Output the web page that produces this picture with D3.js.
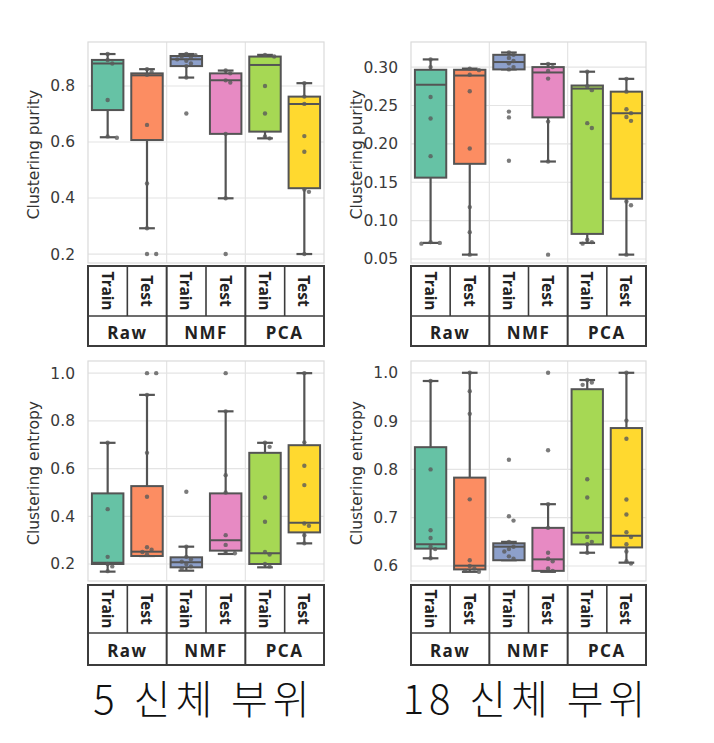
<!DOCTYPE html>
<html>
<head>
<meta charset="utf-8">
<script src="https://cdn.jsdelivr.net/npm/d3@7"></script>
<style>
  html, body { margin: 0; padding: 0; background: #fff; }
  svg { display: block; }
</style>
</head>
<body>
<svg id="chart" width="714" height="743"></svg>
<script>
// ---------- data ----------
const categories = ["Train", "Test", "Train", "Test", "Train", "Test"];
const groups = ["Raw", "NMF", "PCA"];
const boxColors = ["#66c2a5", "#fc8d62", "#8da0cb", "#e78ac3", "#a6d854", "#ffd92f"];
const panelTitles = ["5 신체 부위", "18 신체 부위"];
const yLabels = ["Clustering purity", "Clustering entropy"];

// box stats: [whiskerLow, q1, median, q3, whiskerHigh]
const purity5Stats = [
  [0.617, 0.714, 0.880, 0.893, 0.914],
  [0.292, 0.607, 0.838, 0.845, 0.860],
  [0.830, 0.871, 0.895, 0.907, 0.914],
  [0.399, 0.629, 0.820, 0.845, 0.855],
  [0.613, 0.637, 0.875, 0.905, 0.911],
  [0.200, 0.435, 0.736, 0.762, 0.810]
];
const purity5Points = [
  [0.914, 0.893, 0.880, 0.750, 0.620, 0.615],
  [0.860, 0.850, 0.840, 0.661, 0.452, 0.292, 0.200, 0.200],
  [0.914, 0.910, 0.905, 0.900, 0.895, 0.890, 0.880, 0.871, 0.830, 0.702],
  [0.855, 0.845, 0.820, 0.812, 0.629, 0.399, 0.200],
  [0.911, 0.905, 0.800, 0.702, 0.620, 0.613],
  [0.810, 0.762, 0.736, 0.621, 0.565, 0.430, 0.422, 0.200]
];
const purity18Stats = [
  [0.071, 0.156, 0.277, 0.2965, 0.310],
  [0.0557, 0.174, 0.289, 0.2965, 0.298],
  [0.297, 0.297, 0.3066, 0.316, 0.319],
  [0.177, 0.2345, 0.293, 0.300, 0.304],
  [0.071, 0.0827, 0.272, 0.276, 0.294],
  [0.0557, 0.1285, 0.240, 0.268, 0.2847]
];
const purity18Points = [
  [0.310, 0.300, 0.261, 0.233, 0.184, 0.072, 0.071, 0.070],
  [0.298, 0.296, 0.290, 0.2686, 0.194, 0.1176, 0.085, 0.0557],
  [0.319, 0.316, 0.312, 0.308, 0.305, 0.300, 0.297, 0.242, 0.2345, 0.178],
  [0.304, 0.300, 0.295, 0.285, 0.229, 0.177, 0.0557],
  [0.294, 0.275, 0.270, 0.227, 0.2206, 0.075, 0.072, 0.070],
  [0.2847, 0.268, 0.245, 0.240, 0.235, 0.230, 0.125, 0.120, 0.0557]
];
const entropy5Stats = [
  [0.168, 0.200, 0.205, 0.496, 0.708],
  [0.2335, 0.2335, 0.2516, 0.5265, 0.909],
  [0.172, 0.186, 0.207, 0.228, 0.2726],
  [0.242, 0.256, 0.300, 0.496, 0.840],
  [0.186, 0.200, 0.245, 0.666, 0.708],
  [0.2865, 0.3325, 0.373, 0.698, 1.000]
];
const entropy5Points = [
  [0.708, 0.430, 0.230, 0.200, 0.190, 0.170],
  [1.000, 1.000, 0.909, 0.666, 0.482, 0.270, 0.260, 0.250, 0.240],
  [0.503, 0.2726, 0.230, 0.220, 0.210, 0.200, 0.190, 0.180],
  [1.000, 0.840, 0.5725, 0.500, 0.321, 0.280, 0.250, 0.245],
  [0.708, 0.691, 0.479, 0.377, 0.250, 0.240, 0.200, 0.190],
  [1.000, 0.710, 0.612, 0.5307, 0.370, 0.360, 0.321, 0.2865]
];
const entropy18Stats = [
  [0.616, 0.636, 0.645, 0.846, 0.983],
  [0.588, 0.593, 0.6007, 0.783, 1.000],
  [0.612, 0.612, 0.640, 0.647, 0.650],
  [0.588, 0.590, 0.6138, 0.679, 0.728],
  [0.6275, 0.6447, 0.669, 0.966, 0.985],
  [0.607, 0.6385, 0.6626, 0.8856, 1.000]
];
const entropy18Points = [
  [0.983, 0.800, 0.674, 0.658, 0.640, 0.635, 0.616],
  [1.000, 0.962, 0.915, 0.738, 0.612, 0.600, 0.595, 0.590, 0.588],
  [0.820, 0.703, 0.694, 0.650, 0.640, 0.635, 0.630, 0.620, 0.615],
  [1.000, 0.8395, 0.728, 0.679, 0.6275, 0.615, 0.610, 0.595, 0.590],
  [0.985, 0.980, 0.975, 0.7796, 0.742, 0.660, 0.650, 0.645, 0.6275],
  [1.000, 0.901, 0.8636, 0.7376, 0.7067, 0.670, 0.660, 0.645, 0.630, 0.610, 0.605]
];

const purity5Ticks = [0.2, 0.4, 0.6, 0.8];
const purity18Ticks = [0.05, 0.10, 0.15, 0.20, 0.25, 0.30];
const entropy5Ticks = [0.2, 0.4, 0.6, 0.8, 1.0];
const entropy18Ticks = [0.6, 0.7, 0.8, 0.9, 1.0];

const purity5Domain = [0.168, 0.957];
const purity18Domain = [0.0448, 0.3327];
const entropy5Domain = [0.1287, 1.051];
const entropy18Domain = [0.569, 1.0244];

// ---------- layout ----------
const svg = d3.select("#chart");
svg.append("rect").attr("width", 714).attr("height", 743).attr("fill", "#fff");

const cols = [{x0: 88, x1: 324}, {x0: 411, x1: 646}];
const rows = [
  {y0: 42, y1: 263, t0: 266, tm: 316, t1: 346},
  {y0: 361, y1: 581, t0: 585, tm: 633, t1: 665}
];

const panels = [
  {c: 0, r: 0, stats: purity5Stats, pts: purity5Points, ticks: purity5Ticks, dom: purity5Domain, fmt: d3.format(".1f"), label: yLabels[0]},
  {c: 1, r: 0, stats: purity18Stats, pts: purity18Points, ticks: purity18Ticks, dom: purity18Domain, fmt: d3.format(".2f"), label: yLabels[0]},
  {c: 0, r: 1, stats: entropy5Stats, pts: entropy5Points, ticks: entropy5Ticks, dom: entropy5Domain, fmt: d3.format(".1f"), label: yLabels[1]},
  {c: 1, r: 1, stats: entropy18Stats, pts: entropy18Points, ticks: entropy18Ticks, dom: entropy18Domain, fmt: d3.format(".1f"), label: yLabels[1]}
];

const edge = "#545454";
const gridCol = "#e4e4e4";

panels.forEach(p => {
  const C = cols[p.c], R = rows[p.r];
  const x = d3.scaleBand().domain(d3.range(categories.length)).range([C.x0, C.x1]).padding(0);
  const xg = d3.scaleBand().domain(groups).range([C.x0, C.x1]).padding(0);
  const y = d3.scaleLinear().domain(p.dom).range([R.y1, R.y0]);
  const g = svg.append("g");

  // grid
  g.selectAll(".hg").data(p.ticks).join("line")
    .attr("x1", C.x0).attr("x2", C.x1)
    .attr("y1", d => y(d)).attr("y2", d => y(d))
    .attr("stroke", gridCol).attr("stroke-width", 1.2);
  g.selectAll(".vg").data(groups.slice(1)).join("line")
    .attr("x1", d => xg(d)).attr("x2", d => xg(d))
    .attr("y1", R.y0).attr("y2", R.y1)
    .attr("stroke", gridCol).attr("stroke-width", 1.2);
  // frame
  g.append("rect").attr("x", C.x0).attr("y", R.y0)
    .attr("width", C.x1 - C.x0).attr("height", R.y1 - R.y0)
    .attr("fill", "none").attr("stroke", "#dadada").attr("stroke-width", 1.2);

  // y axis (labels only)
  const axis = d3.axisLeft(y).tickValues(p.ticks).tickFormat(p.fmt).tickSize(0).tickPadding(13);
  const ax = g.append("g").attr("transform", `translate(${C.x0},0)`).call(axis);
  ax.select(".domain").remove();
  ax.selectAll("text").attr("font-family", "DejaVu Sans").attr("font-size", 15.5).attr("fill", "#3a3a3a");

  // y label
  g.append("text")
    .attr("transform", `translate(${C.x0 - 54},${(R.y0 + R.y1) / 2 + 2}) rotate(-90)`)
    .attr("text-anchor", "middle").attr("dominant-baseline", "central")
    .attr("font-family", "DejaVu Sans").attr("font-size", 15.5).attr("fill", "#333")
    .text(p.label);

  // boxes
  const bw = x.bandwidth() * 0.8;
  p.stats.forEach((s, i) => {
    const cx = x(i) + x.bandwidth() / 2;
    const [lo, q1, med, q3, hi] = s;
    const bg = g.append("g");
    bg.append("line").attr("x1", cx).attr("x2", cx).attr("y1", y(hi)).attr("y2", y(q3))
      .attr("stroke", edge).attr("stroke-width", 2.2);
    bg.append("line").attr("x1", cx).attr("x2", cx).attr("y1", y(q1)).attr("y2", y(lo))
      .attr("stroke", edge).attr("stroke-width", 2.2);
    [lo, hi].forEach(v => {
      bg.append("line").attr("x1", cx - bw / 4).attr("x2", cx + bw / 4)
        .attr("y1", y(v)).attr("y2", y(v)).attr("stroke", edge).attr("stroke-width", 2.2);
    });
    bg.append("rect").attr("x", cx - bw / 2).attr("y", y(q3))
      .attr("width", bw).attr("height", Math.max(1, y(q1) - y(q3)))
      .attr("fill", boxColors[i]).attr("stroke", edge).attr("stroke-width", 2);
    bg.append("line").attr("x1", cx - bw / 2).attr("x2", cx + bw / 2)
      .attr("y1", y(med)).attr("y2", y(med)).attr("stroke", edge).attr("stroke-width", 2);

    // points (simple swarm placement)
    const r = 2.2, step = 4.6;
    const placed = [];
    p.pts[i].slice().sort((a, b) => b - a).forEach(v => {
      const py = y(v);
      let off = 0;
      for (let k = 0; k < 12; k++) {
        const cand = k === 0 ? 0 : (k % 2 ? 1 : -1) * Math.ceil(k / 2) * step;
        const clash = placed.some(q => Math.hypot(q.x - cand, q.y - py) < 2 * r + 0.6);
        if (!clash) { off = cand; break; }
      }
      placed.push({x: off, y: py});
    });
    bg.selectAll("circle").data(placed).join("circle")
      .attr("cx", d => cx + d.x).attr("cy", d => d.y).attr("r", r)
      .attr("fill", "#5a5a5a").attr("fill-opacity", 0.8);
  });

  // table
  const tg = g.append("g");
  const lc = "#3c3c3c";
  tg.append("rect").attr("x", C.x0).attr("y", R.t0)
    .attr("width", C.x1 - C.x0).attr("height", R.t1 - R.t0)
    .attr("fill", "#fff").attr("stroke", lc).attr("stroke-width", 2);
  tg.append("line").attr("x1", C.x0).attr("x2", C.x1).attr("y1", R.tm).attr("y2", R.tm)
    .attr("stroke", lc).attr("stroke-width", 1.6);
  d3.range(1, categories.length).forEach(i => {
    const isGroup = i % 2 === 0;
    tg.append("line").attr("x1", x(i)).attr("x2", x(i))
      .attr("y1", R.t0).attr("y2", isGroup ? R.t1 : R.tm)
      .attr("stroke", lc).attr("stroke-width", isGroup ? 2 : 1.6);
  });
  categories.forEach((c, i) => {
    const cx = x(i) + x.bandwidth() / 2;
    tg.append("text")
      .attr("transform", `translate(${cx},${(R.t0 + R.tm) / 2}) rotate(90)`)
      .attr("text-anchor", "middle").attr("dominant-baseline", "central")
      .attr("font-family", "Noto Sans").attr("font-weight", "bold").attr("font-size", 15.5)
      .attr("fill", "#222").text(c);
  });
  groups.forEach(gname => {
    tg.append("text")
      .attr("x", xg(gname) + xg.bandwidth() / 2).attr("y", (R.tm + R.t1) / 2 + 1)
      .attr("text-anchor", "middle").attr("dominant-baseline", "central")
      .attr("font-family", "Noto Sans").attr("font-weight", "bold").attr("font-size", 17)
      .attr("letter-spacing", 1.5).attr("fill", "#222").text(gname);
  });
});

// titles
cols.forEach((C, i) => {
  svg.append("text")
    .attr("x", (C.x0 + C.x1) / 2 - 2).attr("y", 714)
    .attr("text-anchor", "middle")
    .attr("font-family", "Noto Sans CJK KR").attr("font-size", 40).attr("font-weight", 300)
    .attr("letter-spacing", 5).attr("fill", "#111")
    .text(panelTitles[i]);
});
</script>
</body>
</html>
